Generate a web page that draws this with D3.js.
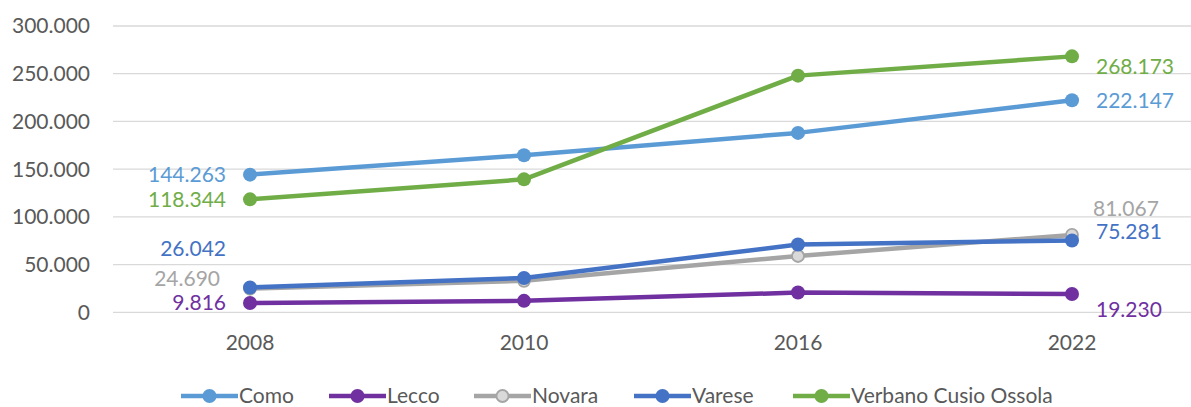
<!DOCTYPE html>
<html>
<head>
<meta charset="utf-8">
<script src="https://cdn.jsdelivr.net/npm/d3@7"></script>
<style>
  body { margin: 0; background: #fff; }
  svg { font-family: Lato, "Open Sans", sans-serif; }
  .grid line { stroke: #d9d9d9; stroke-width: 1.3; }
  .tick-label { fill: #595959; font-size: 21px; }
  .legend text { fill: #595959; font-size: 21px; }
</style>
</head>
<body>
<svg id="chart" width="1191" height="407"></svg>
<script>
// categories and series
const years = ["2008", "2010", "2016", "2022"];
const seriesNames = ["Como", "Lecco", "Novara", "Varese", "Verbano Cusio Ossola"];
const como = [144263, 164500, 188000, 222147];
const lecco = [9816, 12000, 20700, 19230];
const novara = [24690, 33000, 59000, 81067];
const varese = [26042, 36000, 71000, 75281];
const verbano = [118344, 139300, 248000, 268173];
const yTicks = [0, 50000, 100000, 150000, 200000, 250000, 300000];

const series = [
  { name: "Como", values: como, color: "#5b9bd5", fill: "#5b9bd5" },
  { name: "Lecco", values: lecco, color: "#7030a0", fill: "#7030a0" },
  { name: "Novara", values: novara, color: "#a5a5a5", fill: "#d9d9d9" },
  { name: "Varese", values: varese, color: "#4472c4", fill: "#4472c4" },
  { name: "Verbano Cusio Ossola", values: verbano, color: "#70ad47", fill: "#70ad47" }
];

// where the first / last value labels sit relative to their point
const labelPlacement = {
  "Como":                 { first: [-24, 0],   last: [24, 0] },
  "Lecco":                { first: [-24, 0],   last: [24, 16] },
  "Novara":               { first: [-30, -10], last: [21, -26] },
  "Varese":               { first: [-24, -39], last: [24, -9] },
  "Verbano Cusio Ossola": { first: [-24, 0],   last: [24, 10] }
};

const it = d3.formatLocale({ decimal: ",", thousands: ".", grouping: [3], currency: ["", "€"] });
const fmt = it.format(",d");

const svg = d3.select("#chart");

const x = d3.scaleBand().domain(years).range([113, 1209]);
const y = d3.scaleLinear().domain([0, 300000]).range([312.3, 26]);
const cx = d => x(d) + x.bandwidth() / 2;

// gridlines
svg.append("g").attr("class", "grid")
  .selectAll("line").data(yTicks).enter().append("line")
  .attr("x1", 113).attr("x2", 1191)
  .attr("y1", d => y(d)).attr("y2", d => y(d));

// y tick labels
svg.append("g").selectAll("text").data(yTicks).enter().append("text")
  .attr("class", "tick-label")
  .attr("x", 90).attr("y", d => y(d))
  .attr("dy", "0.35em").attr("text-anchor", "end")
  .text(d => fmt(d));

// x tick labels
svg.append("g").selectAll("text").data(years).enter().append("text")
  .attr("class", "tick-label")
  .attr("x", d => cx(d)).attr("y", 343)
  .attr("dy", "0.35em").attr("text-anchor", "middle")
  .text(d => d);

const line = d3.line().x((d, i) => cx(years[i])).y(d => y(d));

const lines = svg.append("g");
series.forEach(s => {
  const g = lines.append("g");
  g.append("path")
    .attr("d", line(s.values))
    .attr("fill", "none")
    .attr("stroke", s.color)
    .attr("stroke-width", 4.5)
    .attr("stroke-linejoin", "round");
  g.selectAll("circle").data(s.values).enter().append("circle")
    .attr("cx", (d, i) => cx(years[i]))
    .attr("cy", d => y(d))
    .attr("r", s.name === "Novara" ? 6 : 7)
    .attr("fill", s.fill)
    .attr("stroke", s.color)
    .attr("stroke-width", s.name === "Novara" ? 1.8 : 0);
});

// value labels on first and last points
const labels = svg.append("g");
series.forEach(s => {
  const p = labelPlacement[s.name];
  const n = s.values.length - 1;
  labels.append("text")
    .attr("x", cx(years[0]) + p.first[0])
    .attr("y", y(s.values[0]) + p.first[1])
    .attr("dy", "0.35em").attr("text-anchor", "end")
    .attr("font-size", 21).attr("fill", s.color)
    .text(fmt(s.values[0]));
  labels.append("text")
    .attr("x", cx(years[n]) + p.last[0])
    .attr("y", y(s.values[n]) + p.last[1])
    .attr("dy", "0.35em").attr("text-anchor", "start")
    .attr("font-size", 21).attr("fill", s.color)
    .text(fmt(s.values[n]));
});

// legend
const legendX = [181, 329, 474, 634, 793];
const legend = svg.append("g").attr("class", "legend");
series.forEach((s, i) => {
  const g = legend.append("g").attr("transform", `translate(${legendX[i]},396)`);
  g.append("line").attr("x1", 0).attr("x2", 57).attr("y1", 0).attr("y2", 0)
    .attr("stroke", s.color).attr("stroke-width", 4.5);
  g.append("circle").attr("cx", 28.5).attr("cy", 0)
    .attr("r", s.name === "Novara" ? 6 : 7)
    .attr("fill", s.fill).attr("stroke", s.color)
    .attr("stroke-width", s.name === "Novara" ? 1.8 : 0);
  g.append("text").attr("x", 58).attr("dy", "0.35em").text(s.name);
});
</script>
</body>
</html>
